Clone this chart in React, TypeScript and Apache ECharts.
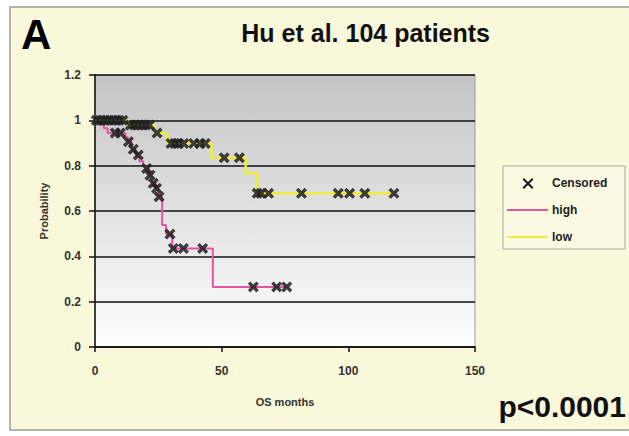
import React, { useEffect, useRef } from "react";
import * as echarts from "echarts";

const highTimes = [0, 2, 3.5, 5, 12, 13, 14.5, 16, 17.5, 19, 20, 21, 22.5, 24, 25, 26.5, 28, 30.5, 46.5, 76];
const highSurv = [1, 0.98, 0.965, 0.944, 0.925, 0.906, 0.872, 0.847, 0.82, 0.8, 0.788, 0.758, 0.722, 0.7, 0.663, 0.538, 0.498, 0.435, 0.265, 0.265];

const lowTimes = [0, 13, 23.5, 28.5, 46, 59.5, 64, 118];
const lowSurv = [1, 0.979, 0.944, 0.898, 0.835, 0.767, 0.678, 0.678];

const censoredLow = [
  [0.5, 1], [2, 1], [3.5, 1], [5, 1], [6.5, 1], [8, 1], [9.5, 1], [11, 1],
  [14, 0.979], [15.5, 0.979], [17, 0.979], [18.5, 0.979], [20, 0.979], [21.5, 0.979],
  [24.5, 0.944],
  [30, 0.898], [31.5, 0.898], [33, 0.898], [35, 0.898], [39, 0.898], [41.5, 0.898], [43.5, 0.898],
  [51, 0.835], [57, 0.835],
  [64, 0.678], [65.5, 0.678], [68.5, 0.678], [81.5, 0.678], [96, 0.678], [100.5, 0.678], [106.5, 0.678], [118, 0.678],
];

const censoredHigh = [
  [8, 0.944], [10, 0.944], [13.2, 0.906], [15.1, 0.872], [17.1, 0.847], [20.4, 0.788], [21.7, 0.758],
  [23, 0.722], [24.3, 0.7], [25.3, 0.663], [29.6, 0.498], [30.9, 0.435], [34.9, 0.435], [42.5, 0.435],
  [62.5, 0.265], [71.7, 0.265], [75.7, 0.265],
];

const xTicks = { min: 0, max: 150, interval: 50 };
const yTicks = { min: 0, max: 1.2, interval: 0.2 };

const PINK = "#e4559c";
const YELLOW = "#efec3a";
const CROSS = "path://M2.2,0 L5,2.8 L7.8,0 L10,2.2 L7.2,5 L10,7.8 L7.8,10 L5,7.2 L2.2,10 L0,7.8 L2.8,5 L0,2.2 Z";
const FONT = "'Liberation Sans', Arial, sans-serif";

export default function App() {
  const ref = useRef<HTMLDivElement>(null);
  useEffect(() => {
    const chart = echarts.init(ref.current!, undefined, { renderer: "svg" });
    const zip = (t: number[], s: number[]) => t.map((v, i) => [v, s[i]]);
    chart.setOption({
      animation: false,
      backgroundColor: "#ffffff",
      textStyle: { fontFamily: FONT },
      grid: {
        left: 95,
        top: 75,
        width: 380,
        height: 272,
        show: true,
        borderColor: "#9a9a9a",
        borderWidth: 1,
        backgroundColor: {
          type: "linear", x: 0, y: 0, x2: 0, y2: 1,
          colorStops: [
            { offset: 0, color: "#c4c4c4" },
            { offset: 1, color: "#ffffff" },
          ],
        },
      },
      xAxis: {
        type: "value",
        ...xTicks,
        name: "OS months",
        nameLocation: "middle",
        nameGap: 49,
        nameTextStyle: { fontSize: 11, fontWeight: "bold", color: "#333", fontFamily: FONT },
        axisLine: { show: true, lineStyle: { color: "#111", width: 1.5 } },
        axisTick: { show: true, length: 5, lineStyle: { color: "#111", width: 1.5 } },
        axisLabel: { fontSize: 12, fontWeight: "bold", color: "#333", margin: 18, fontFamily: FONT },
        splitLine: { show: false },
      },
      yAxis: {
        type: "value",
        ...yTicks,
        name: "Probability",
        nameLocation: "middle",
        nameGap: 46,
        nameRotate: 90,
        nameTextStyle: { fontSize: 11, fontWeight: "bold", color: "#333", fontFamily: FONT },
        axisLine: { show: true, lineStyle: { color: "#111", width: 1.5 } },
        axisTick: { show: true, length: 6, lineStyle: { color: "#111", width: 1.5 } },
        axisLabel: { fontSize: 12, fontWeight: "bold", color: "#333", margin: 14, fontFamily: FONT },
        splitLine: { show: true, lineStyle: { color: "#111", width: 1.5 } },
      },
      series: [
        {
          name: "high",
          type: "line",
          step: "end",
          data: zip(highTimes, highSurv),
          showSymbol: false,
          symbol: "none",
          lineStyle: { color: PINK, width: 2 },
          itemStyle: { color: PINK },
          z: 3,
        },
        {
          name: "low",
          type: "line",
          step: "end",
          data: zip(lowTimes, lowSurv),
          showSymbol: false,
          symbol: "none",
          lineStyle: { color: YELLOW, width: 2.5 },
          itemStyle: { color: YELLOW },
          z: 3,
        },
        {
          name: "Censored",
          type: "scatter",
          data: [...censoredLow, ...censoredHigh],
          symbol: CROSS,
          symbolSize: 11,
          itemStyle: { color: "#1e1e1e", opacity: 0.85 },
          z: 4,
        },
      ],
      graphic: [
        {
          type: "rect",
          z: -10,
          silent: true,
          shape: { x: 10, y: 7, width: 630, height: 423 },
          style: { fill: "#faf8da", stroke: "#b3b3a8", lineWidth: 2 },
        },
        {
          type: "text",
          x: 21,
          y: 34,
          style: { text: "A", font: `bold 42px ${FONT}`, fill: "#000", verticalAlign: "middle", align: "left" },
        },
        {
          type: "text",
          x: 490,
          y: 33,
          style: { text: "Hu et al. 104 patients", font: `bold 25px ${FONT}`, fill: "#111", verticalAlign: "middle", align: "right" },
        },
        {
          type: "text",
          x: 626,
          y: 406,
          style: { text: "p<0.0001", font: `bold 30px ${FONT}`, fill: "#111", verticalAlign: "middle", align: "right" },
        },
        {
          type: "group",
          children: [
            {
              type: "rect",
              shape: { x: 503, y: 166, width: 122, height: 83 },
              style: { fill: "#fbf9e2", stroke: "#a8a8a0", lineWidth: 1 },
            },
            {
              type: "polygon",
              shape: { points: [[524, 178], [528, 182], [532, 178], [533.5, 179.5], [529.5, 183.5], [533.5, 187.5], [532, 189], [528, 185], [524, 189], [522.5, 187.5], [526.5, 183.5], [522.5, 179.5]] },
              style: { fill: "#1e1e1e" },
            },
            {
              type: "text", x: 552, y: 183,
              style: { text: "Censored", font: `bold 12px ${FONT}`, fill: "#222", verticalAlign: "middle" },
            },
            {
              type: "line", shape: { x1: 507, y1: 210, x2: 548, y2: 210 },
              style: { stroke: PINK, lineWidth: 2 },
            },
            {
              type: "text", x: 552, y: 210,
              style: { text: "high", font: `bold 12px ${FONT}`, fill: "#222", verticalAlign: "middle" },
            },
            {
              type: "line", shape: { x1: 507, y1: 237, x2: 548, y2: 237 },
              style: { stroke: YELLOW, lineWidth: 2 },
            },
            {
              type: "text", x: 552, y: 237,
              style: { text: "low", font: `bold 12px ${FONT}`, fill: "#222", verticalAlign: "middle" },
            },
          ],
        },
      ],
    });
    return () => chart.dispose();
  }, []);
  return <div ref={ref} style={{ position: "fixed", left: 0, top: 0, width: 629, height: 436 }} />;
}
